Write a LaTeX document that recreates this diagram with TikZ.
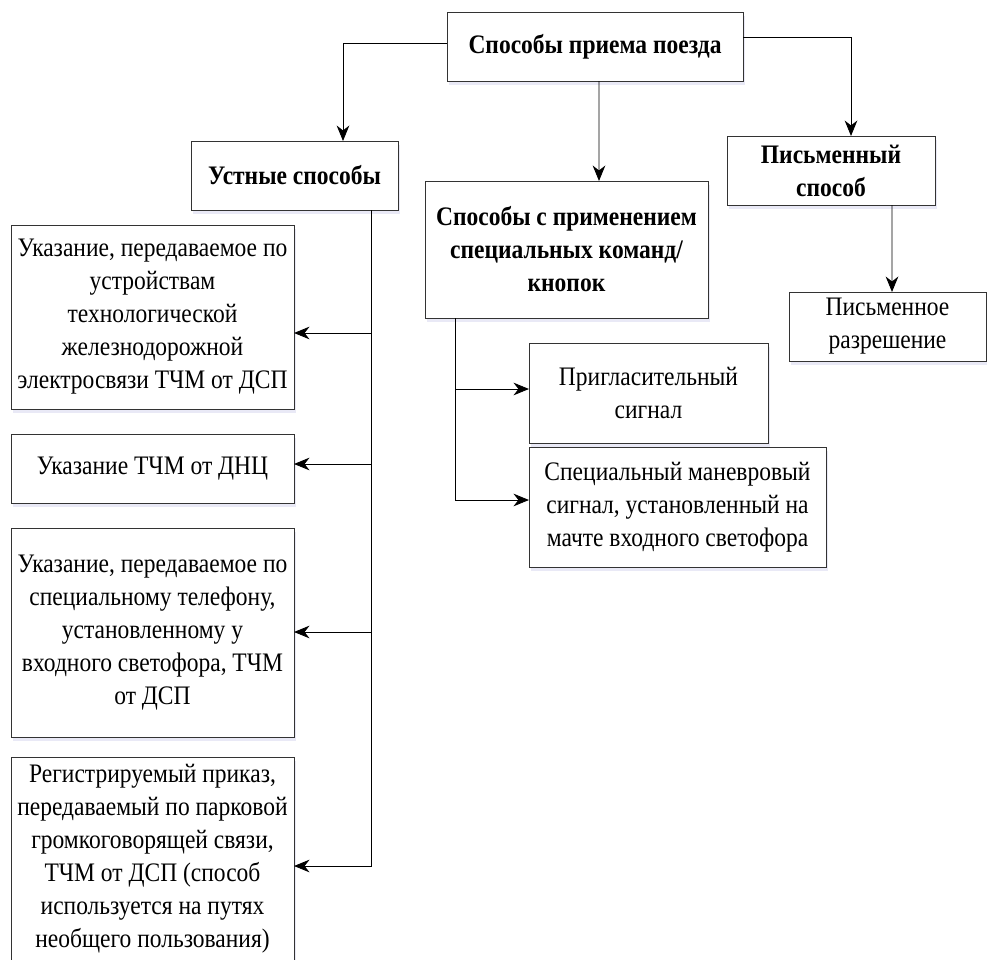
\documentclass[tikz,border=0pt]{standalone}
\usepackage{fontspec}
\setmainfont{Liberation Serif}[FakeStretch=0.88]
\usepackage{tikz}
\usetikzlibrary{arrows.meta, positioning, calc, shadows}
\tikzset{
    arrow/.style={-{Stealth[length=11pt, width=9pt, inset=3.5pt]}, line width=0.6pt, black},
}

\begin{document}
\begin{tikzpicture}[
    x=0.025cm, y=-0.025cm,
    box/.style={rectangle, draw=black!80, line width=0.65pt, fill=white, inner sep=0pt, outer sep=0pt,
        align=center, font=\fontsize{19pt}{23.5pt}\selectfont,
        drop shadow={shadow xshift=1.5pt, shadow yshift=-3pt, opacity=0.12, fill=blue!40!gray}},
    headbox/.style={box, font=\fontsize{19pt}{23.5pt}\selectfont\bfseries},
]
\useasboundingbox (0,0) rectangle (987,960);

% top level
\node[headbox, minimum width=7.4cm, minimum height=1.725cm] (root) at (595,46.5) {Способы приема поезда};
\node[headbox, minimum width=5.175cm, minimum height=1.725cm] (oral) at (294.5,175.5) {Устные способы};
\node[headbox, minimum width=7.075cm, minimum height=3.425cm] (cmd) at (566.5,249.5) {Способы с применением\\специальных команд/\\кнопок};
\node[headbox, minimum width=5.2cm, minimum height=1.725cm] (written) at (831,170.5) {Письменный\\способ};

% oral methods
\node[box, minimum width=7.075cm, minimum height=4.6cm] (oral1) at (152.5,317) {Указание, передаваемое по\\устройствам\\технологической\\железнодорожной\\электросвязи ТЧМ от ДСП};
\node[box, minimum width=7.075cm, minimum height=1.725cm] (oral2) at (152.5,468.5) {Указание ТЧМ от ДНЦ};
\node[box, minimum width=7.075cm, minimum height=5.225cm] (oral3) at (152.5,632.5) {Указание, передаваемое по\\специальному телефону,\\установленному у\\входного светофора, ТЧМ\\от ДСП};
\node[box, minimum width=7.075cm, minimum height=5.075cm] (oral4) at (152.5,858.5) {Регистрируемый приказ,\\передаваемый по парковой\\громкоговорящей связи,\\ТЧМ от ДСП (способ\\используется на путях\\необщего пользования)};

% command methods
\node[box, minimum width=5.975cm, minimum height=2.5cm] (invite) at (648.5,393) {Пригласительный\\сигнал};
\node[box, minimum width=7.425cm, minimum height=3cm] (shunt) at (677.5,507) {Специальный маневровый\\сигнал, установленный на\\мачте входного светофора};

% written method
\node[box, minimum width=4.925cm, minimum height=1.725cm] (permit) at (887.5,326.5) {Письменное\\разрешение};

% connectors
\draw[arrow] ($(root.west)+(0,-3.5)$) -| ($(oral.north)+(48.5,0)$);
\draw[arrow] ($(root.south)+(4,0)$) -- ($(cmd.north)+(32.5,0)$);
\draw[arrow] ($(root.east)+(0,-9.5)$) -| ($(written.north)+(20,0)$);
\draw[arrow] ($(written.south)+(61,0)$) -- ($(permit.north)+(4.5,0)$);

\coordinate (oraltrunk) at ($(oral.south)+(76.5,0)$);
\draw[arrow] (oraltrunk) |- ($(oral1.east)+(0,16)$);
\draw[arrow] (oraltrunk) |- ($(oral2.east)+(0,-4.5)$);
\draw[arrow] (oraltrunk) |- ($(oral3.east)+(0,-0.5)$);
\draw[arrow] (oraltrunk) |- ($(oral4.east)+(0,7.5)$);

\coordinate (cmdtrunk) at ($(cmd.south)+(-111.5,0)$);
\draw[arrow] (cmdtrunk) |- ($(invite.west)+(0,-4)$);
\draw[arrow] (cmdtrunk) |- ($(shunt.west)+(0,-7)$);

\end{tikzpicture}
\end{document}
